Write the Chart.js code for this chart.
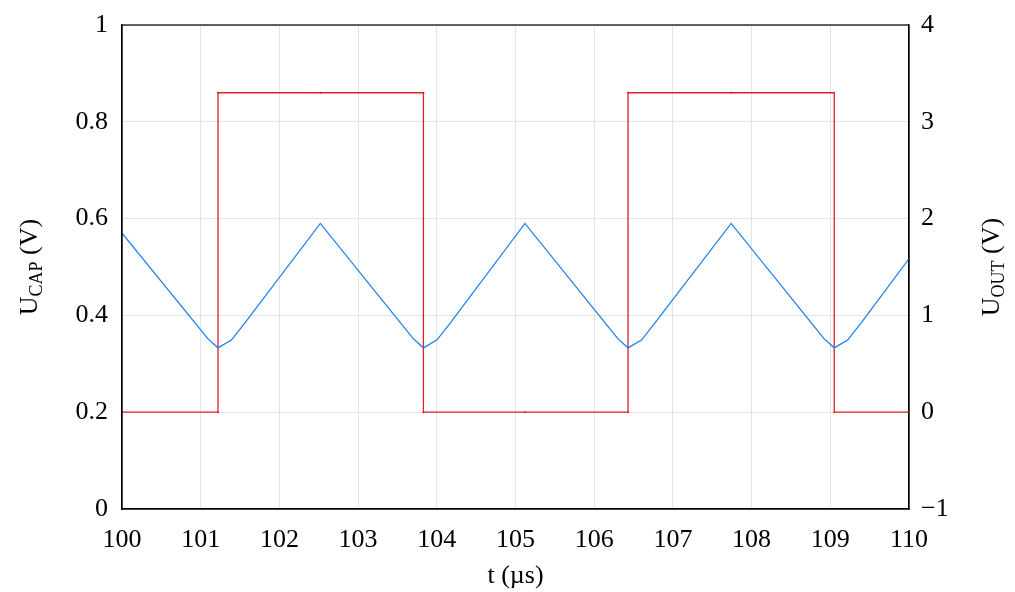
<!DOCTYPE html>
<html>
<head>
<meta charset="utf-8">
<script src="https://cdn.jsdelivr.net/npm/chart.js@4"></script>
<style>
  html, body { margin: 0; padding: 0; background: #fff; }
  #wrap { width: 1015px; height: 592px; }
</style>
</head>
<body>
<div id="wrap"><canvas id="myChart" width="1015" height="592"></canvas></div>
<script>
// Zeit in µs und Kondensatorspannung (linke Achse)
const capTimes = [100, 100.99, 101.09, 101.22, 101.39, 101.56, 102.52,
  103.6, 103.7, 103.83, 104.0, 104.17, 105.12,
  106.2, 106.3, 106.43, 106.6, 106.77, 107.74,
  108.82, 108.92, 109.05, 109.22, 109.39, 110];
const capValues = [0.57, 0.372, 0.352, 0.333, 0.349, 0.384, 0.59,
  0.372, 0.352, 0.333, 0.349, 0.384, 0.59,
  0.372, 0.352, 0.333, 0.349, 0.384, 0.59,
  0.372, 0.352, 0.333, 0.349, 0.384, 0.517];

// Ausgangsspannung (rechte Achse)
const outTimes = [100, 101.22, 101.22, 102.52, 103.83, 103.83, 105.12, 106.43, 106.43, 107.74, 109.05, 109.05, 110];
const outValues = [0, 0, 3.3, 3.3, 3.3, 0, 0, 0, 3.3, 3.3, 3.3, 0, 0];

const xTicks = [100, 101, 102, 103, 104, 105, 106, 107, 108, 109, 110];
const leftTicks = [0, 0.2, 0.4, 0.6, 0.8, 1];
const rightTicks = [-1, 0, 1, 2, 3, 4];

const serif = "'Liberation Serif', 'DejaVu Serif', serif";

function toPoints(xs, ys) {
  return xs.map((x, i) => ({ x: x, y: ys[i] }));
}

// Rahmen um die Zeichenfläche und Achsentitel mit tiefgestelltem Index
const frameAndTitles = {
  id: "frameAndTitles",
  afterDraw(chart) {
    const ctx = chart.ctx;
    const area = chart.chartArea;
    ctx.save();
    ctx.strokeStyle = "#000";
    ctx.lineWidth = 1.2;
    ctx.strokeRect(area.left, area.top, area.right - area.left, area.bottom - area.top);
    ctx.restore();

    const cy = (area.top + area.bottom) / 2;
    function drawTitle(cx, sub) {
      ctx.save();
      ctx.translate(cx, cy);
      ctx.rotate(-Math.PI / 2);
      ctx.fillStyle = "#000";
      ctx.textBaseline = "alphabetic";
      const big = "26px " + serif;
      const small = "18px " + serif;
      ctx.font = big;
      const wU = ctx.measureText("U").width;
      const wV = ctx.measureText(" (V)").width;
      ctx.font = small;
      const wS = ctx.measureText(sub).width;
      const total = wU + wS + wV;
      let x = -total / 2;
      ctx.font = big;
      ctx.fillText("U", x, 9);
      x += wU;
      ctx.font = small;
      ctx.fillText(sub, x, 14);
      x += wS;
      ctx.font = big;
      ctx.fillText(" (V)", x, 9);
      ctx.restore();
    }
    drawTitle(28, "CAP");
    drawTitle(990, "OUT");
  }
};

function fixVertical(width) {
  return function (axis) {
    axis.width = width;
    axis.paddingTop = 0;
    axis.paddingBottom = 0;
  };
}

const ctx = document.getElementById("myChart").getContext("2d");
new Chart(ctx, {
  type: "line",
  data: {
    datasets: [
      {
        label: "U_CAP",
        data: toPoints(capTimes, capValues),
        borderColor: "#1f82f0",
        borderWidth: 1.3,
        pointRadius: 0,
        tension: 0,
        yAxisID: "y",
      },
      {
        label: "U_OUT",
        data: toPoints(outTimes, outValues),
        borderColor: "#e0202a",
        borderWidth: 1.3,
        pointRadius: 1,
        pointBackgroundColor: "#e0202a",
        pointBorderWidth: 0,
        tension: 0,
        yAxisID: "y2",
      },
    ],
  },
  options: {
    responsive: false,
    animation: false,
    layout: { padding: { top: 25, left: 0, right: 0, bottom: 0 } },
    plugins: {
      legend: { display: false },
      tooltip: { enabled: false },
    },
    scales: {
      x: {
        type: "linear",
        min: 100,
        max: 110,
        afterBuildTicks(axis) {
          axis.ticks = xTicks.map((v) => ({ value: v }));
        },
        grid: { color: "#e4e4e4", drawTicks: false },
        border: { color: "#000", width: 1.2 },
        ticks: {
          color: "#000",
          padding: 16,
          font: { family: serif, size: 26 },
          maxRotation: 0,
        },
        title: {
          display: true,
          text: "t (µs)",
          color: "#000",
          font: { family: serif, size: 26 },
          padding: { top: 0, bottom: 0 },
        },
        afterFit(axis) {
          axis.height = 83;
          axis.paddingLeft = 0;
          axis.paddingRight = 0;
        },
      },
      y: {
        type: "linear",
        position: "left",
        min: 0,
        max: 1,
        afterBuildTicks(axis) {
          axis.ticks = leftTicks.map((v) => ({ value: v }));
        },
        grid: { color: "#e4e4e4", drawTicks: false },
        border: { color: "#000", width: 1.2 },
        ticks: {
          color: "#000",
          padding: 14,
          font: { family: serif, size: 26 },
          callback: (v) => String(Math.round(v * 10) / 10),
        },
        afterFit: fixVertical(122),
      },
      y2: {
        type: "linear",
        position: "right",
        min: -1,
        max: 4,
        afterBuildTicks(axis) {
          axis.ticks = rightTicks.map((v) => ({ value: v }));
        },
        grid: { drawOnChartArea: false, drawTicks: false },
        border: { color: "#000", width: 1.2 },
        ticks: {
          color: "#000",
          padding: 12,
          font: { family: serif, size: 26 },
          callback: (v) => (v < 0 ? "\u2212" + Math.abs(v) : String(v)),
        },
        afterFit: fixVertical(106),
      },
    },
  },
  plugins: [frameAndTitles],
});
</script>
</body>
</html>
